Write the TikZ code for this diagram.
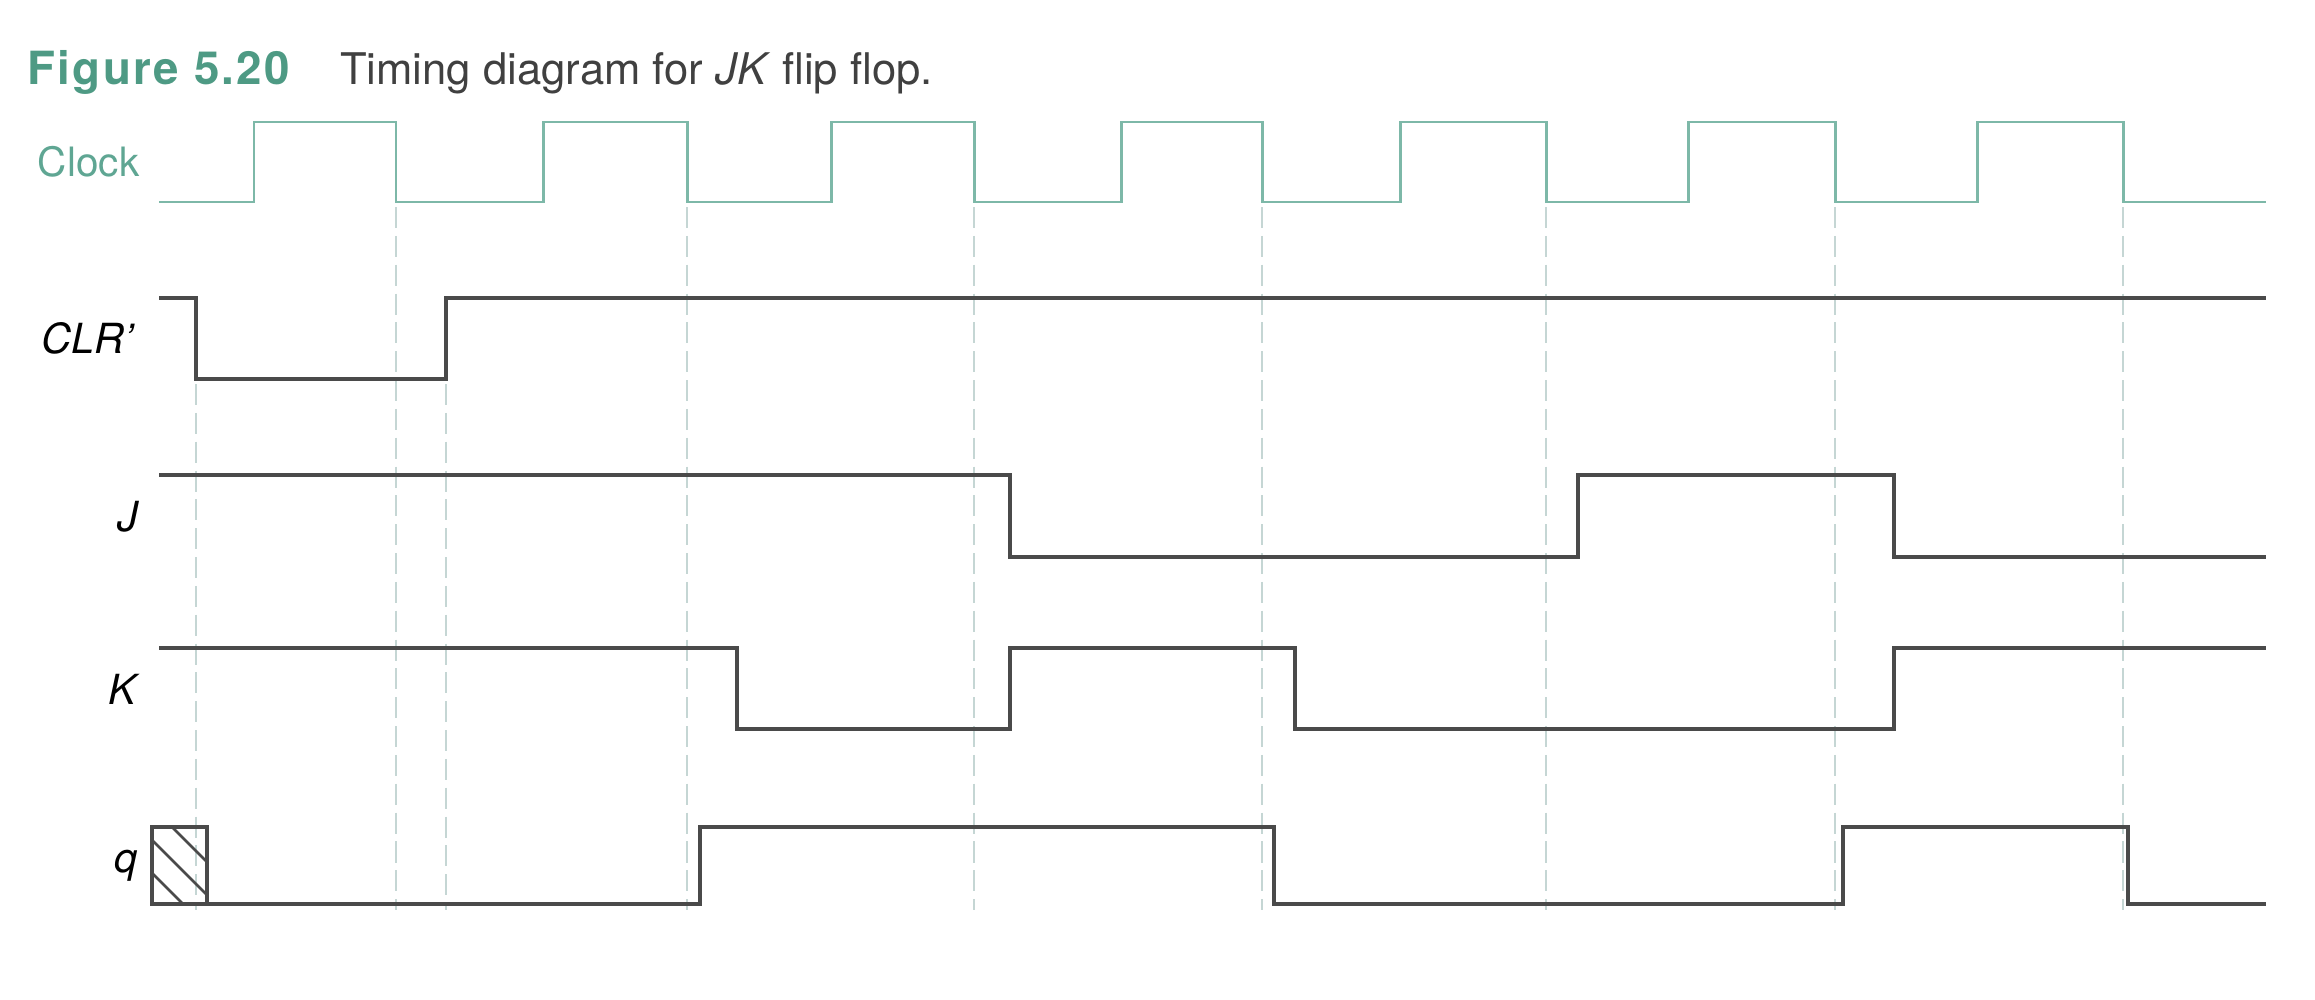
\documentclass[tikz,border=0pt]{standalone}
\usepackage{fontspec}
\setmainfont{TeX Gyre Heros}
\newfontfamily\fignumfont[LetterSpace=5]{TeX Gyre Heros}
\usetikzlibrary{positioning}
\definecolor{clockteal}{HTML}{7DB8A8}
\definecolor{lblteal}{HTML}{5FA693}
\definecolor{figteal}{HTML}{4E9A84}
\definecolor{sigline}{HTML}{4A4A4A}
\definecolor{guide}{HTML}{C5D6D4}

\begin{document}
\begin{tikzpicture}[
    x=0.01cm, y=-0.01cm,
    every node/.style={font=\fontsize{12.4}{14}\selectfont, inner sep=0pt},
    siglbl/.style={anchor=east, font=\fontsize{11.8}{14}\selectfont\itshape},
    sig/.style={draw=sigline, line width=1pt},
    clk/.style={draw=clockteal, line width=0.85pt},
    guideline/.style={draw=guide, line width=0.6pt, dash pattern=on 6pt off 2.2pt}
]
    \useasboundingbox (0,0) rectangle (2315,1000);

    \node[anchor=west, text=figteal, font=\fontsize{13}{15}\selectfont\fignumfont\bfseries] (fignum) at (27,72) {Figure 5.20};
    \node[base right=0.49cm of fignum, text=black!75] (figcap) {Timing diagram for \textit{JK} flip flop.};

    \node[anchor=east, text=lblteal, font=\fontsize{11.5}{14}\selectfont] (clklbl) at (140,162) {Clock};
    \node[siglbl] (clrlbl) at (134,338) {CLR'};
    \node[siglbl] (jlbl) at (139,517) {J};
    \node[siglbl] (klbl) at (137,689) {K};
    \node[siglbl] (qlbl) at (138,866) {q};

    \foreach \f in {396,687,974,1262,1546,1835,2123}
        \draw[guideline] (\f,207) -- (\f,910);
    \foreach \e in {196,446}
        \draw[guideline] (\e,384) -- (\e,910);

    \draw[clk] (159,202)
        \foreach \r/\f in {254/396,543/687,831/974,1121/1262,1400/1546,1688/1835,1977/2123}
        { -- (\r,202) -- (\r,122) -- (\f,122) -- (\f,202) } -- (2266,202);

    \draw[sig] (159,298) -- (196,298) -- (196,379) -- (446,379) -- (446,298) -- (2266,298);
    \draw[sig] (159,475) -- (1010,475) -- (1010,557) -- (1578,557) -- (1578,475)
        -- (1894,475) -- (1894,557) -- (2266,557);
    \draw[sig] (159,648) -- (737,648) -- (737,729) -- (1010,729) -- (1010,648)
        -- (1295,648) -- (1295,729) -- (1894,729) -- (1894,648) -- (2266,648);
    \draw[sig] (207,904) -- (700,904) -- (700,827) -- (1274,827) -- (1274,904)
        -- (1843,904) -- (1843,827) -- (2128,827) -- (2128,904) -- (2266,904);

    \begin{scope}
        \clip (152,827) rectangle (207,904);
        \foreach \c in {655,688,721}
            \draw[sig, line width=0.8pt] (140,140+\c) -- (230,230+\c);
    \end{scope}
    \draw[sig] (152,827) rectangle (207,904);
\end{tikzpicture}
\end{document}
